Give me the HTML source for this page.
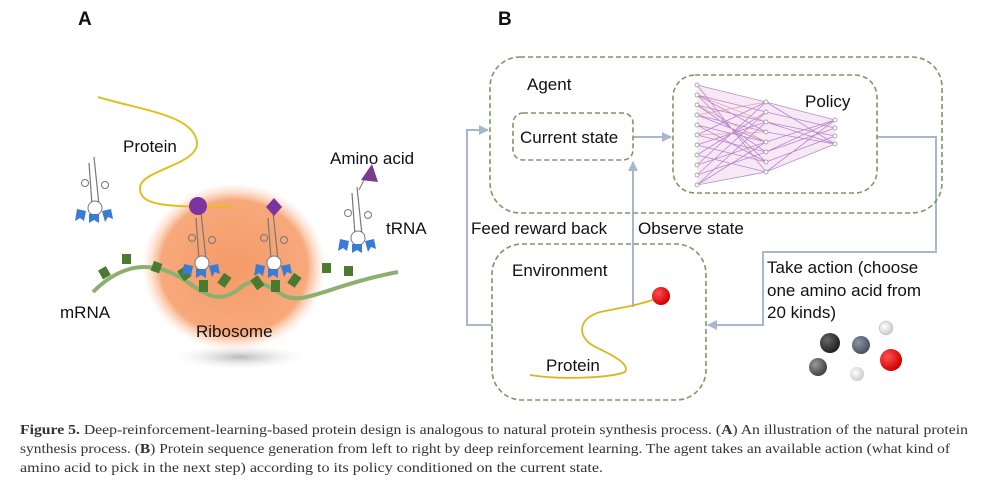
<!DOCTYPE html>
<html><head><meta charset="utf-8"><style>
html,body{margin:0;padding:0;background:#fff;}
svg{display:block;}
text{font-family:"Liberation Sans",sans-serif;}
.cap{font-family:"Liberation Serif",serif;font-size:13.5px;fill:#333;}
</style></head><body>
<svg width="1002" height="480" viewBox="0 0 1002 480" xmlns="http://www.w3.org/2000/svg">
<defs>
<radialGradient id="org" cx="50%" cy="50%" r="50%">
<stop offset="0" stop-color="#f59a68"/><stop offset="0.8" stop-color="#f7a97c"/><stop offset="1" stop-color="#fcd8c4" stop-opacity="0"/>
</radialGradient>
<radialGradient id="shd" cx="50%" cy="50%" r="50%">
<stop offset="0" stop-color="#b8b8b8"/><stop offset="1" stop-color="#eee" stop-opacity="0"/>
</radialGradient>
<radialGradient id="red" cx="35%" cy="35%" r="65%"><stop offset="0" stop-color="#ff5050"/><stop offset="1" stop-color="#d00000"/></radialGradient>
<radialGradient id="dk" cx="35%" cy="35%" r="65%"><stop offset="0" stop-color="#666"/><stop offset="1" stop-color="#222"/></radialGradient>
<radialGradient id="gb" cx="35%" cy="35%" r="65%"><stop offset="0" stop-color="#8a93a0"/><stop offset="1" stop-color="#4b5360"/></radialGradient>
<radialGradient id="gr" cx="35%" cy="35%" r="65%"><stop offset="0" stop-color="#999"/><stop offset="1" stop-color="#444"/></radialGradient>
<radialGradient id="lt" cx="40%" cy="40%" r="60%"><stop offset="0" stop-color="#fff"/><stop offset="1" stop-color="#ccc"/></radialGradient>
<marker id="ar" viewBox="0 0 10 10" refX="9" refY="5" markerWidth="5" markerHeight="5" orient="auto"><path d="M0,0L10,5L0,10z" fill="#a8b8cc"/></marker>
<g id="trna">
<path d="M0,-48 L5,0" stroke="#777" stroke-width="1.2" fill="none"/>
<path d="M-5,-42 L-2,0" stroke="#777" stroke-width="1.2" fill="none"/>
<circle cx="-9" cy="-22" r="3.5" fill="none" stroke="#777"/>
<circle cx="11" cy="-20" r="3.5" fill="none" stroke="#777"/>
<circle cx="1" cy="3" r="7" fill="#fff" stroke="#777"/>
<path d="M-17,4 l9,2 l-2,10 l-4,-3 l-5,3z" fill="#3a7bd5"/>
<path d="M-5,9 l10,0 l0,9 l-5,-3 l-5,3z" fill="#3a7bd5"/>
<path d="M8,6 l9,-2 l2,10 l-5,-2 l-3,5z" fill="#3a7bd5"/>
</g>
</defs>

<!-- Panel A -->
<text x="78" y="25" font-size="19" font-weight="bold" fill="#111">A</text>
<ellipse cx="240" cy="357" rx="65" ry="12" fill="url(#shd)"/>
<ellipse cx="234" cy="267" rx="92" ry="84" fill="url(#org)"/>
<path d="M98,97 C140,110 195,115 197,143 C198,165 140,170 140,188 C140,205 160,207 233,207" stroke="#e0c020" stroke-width="2" fill="none"/>
<path d="M93,292 C120,265 150,258 185,280 C205,295 220,305 240,288 C255,275 265,285 285,296 C305,305 330,285 398,272" stroke="#8cb070" stroke-width="4" fill="none"/>
<g fill="#4a7a30">
<rect x="100" y="268" width="9" height="10" transform="rotate(-30 104 273)"/>
<rect x="122" y="254" width="9" height="10"/>
<rect x="152" y="262" width="9" height="10" transform="rotate(20 156 267)"/>
<rect x="180" y="268" width="9" height="12" transform="rotate(-35 184 274)"/>
<rect x="199" y="280" width="9" height="12"/>
<rect x="220" y="274" width="9" height="12" transform="rotate(35 224 280)"/>
<rect x="253" y="277" width="9" height="12" transform="rotate(-35 257 283)"/>
<rect x="271" y="280" width="9" height="12"/>
<rect x="290" y="274" width="9" height="12" transform="rotate(35 294 280)"/>
<rect x="322" y="263" width="9" height="10"/>
<rect x="344" y="266" width="9" height="10"/>
</g>
<use href="#trna" transform="translate(94,205)"/>
<use href="#trna" transform="translate(357,235)"/>
<use href="#trna" transform="translate(201,260)"/>
<use href="#trna" transform="translate(273,260)"/>
<line x1="359" y1="190" x2="366" y2="176" stroke="#777"/>
<path d="M361,180 L372,164 L378,182z" fill="#7a3a90"/>
<circle cx="198" cy="206" r="9" fill="#7a35a0"/>
<path d="M274,198 L282,207 L274,216 L266,207z" fill="#7a35a0"/>
<g font-size="17" fill="#111">
<text x="123" y="152">Protein</text>
<text x="330" y="164">Amino acid</text>
<text x="386" y="234">tRNA</text>
<text x="60" y="318">mRNA</text>
<text x="196" y="337">Ribosome</text>
</g>

<!-- Panel B -->
<text x="498" y="25" font-size="19" font-weight="bold" fill="#111">B</text>
<g fill="none" stroke="#a8b8cc" stroke-width="2">
<path d="M492,325 L467,325 L467,130 L488,130" marker-end="url(#ar)"/>
<path d="M633,307 L633,162" marker-end="url(#ar)"/>
<path d="M633,137 L671,137" marker-end="url(#ar)"/>
<path d="M877,137 L936,137 L936,252 L763,252 L763,325 L708,325" marker-end="url(#ar)"/>
</g>
<g fill="none" stroke="#7a9a60" stroke-width="1.6" stroke-dasharray="5,3">
<rect x="490" y="57" width="452" height="156" rx="30"/>
<rect x="513" y="113" width="120" height="47" rx="10"/>
<rect x="673" y="75" width="204" height="118" rx="22"/>
<rect x="492" y="244" width="214" height="156" rx="30"/>
</g>
<!-- network -->
<path d="M697,85 L766,102 L835,120 L835,144 L766,172 L697,185z" fill="#f0d8ec" opacity="0.6"/>
<g stroke="#a060c0" stroke-width="0.8" opacity="0.7">
<path d="M697,85 L766,102 M697,95 L766,112 M697,105 L766,122 M697,115 L766,132 M697,125 L766,142 M697,135 L766,152 M697,145 L766,162 M697,155 L766,172 M697,165 L766,102 M697,175 L766,112 M697,185 L766,122 M697,85 L766,172 M697,95 L766,162 M697,105 L766,152 M697,115 L766,142 M697,155 L766,112 M697,175 L766,152 M697,185 L766,172 M697,135 L766,102 M697,125 L766,162 M697,145 L766,122 M697,165 L766,142 M697,95 L766,132 M697,185 L766,142"/>
<path d="M766,102 L835,120 M766,112 L835,128 M766,122 L835,136 M766,132 L835,144 M766,142 L835,120 M766,152 L835,128 M766,162 L835,136 M766,172 L835,144 M766,102 L835,144 M766,172 L835,120 M766,122 L835,144 M766,152 L835,120"/>
</g>
<g stroke="#e08080" stroke-width="0.8" opacity="0.6">
<path d="M697,95 L766,122 M697,115 L766,102 M697,135 L766,132 M697,105 L766,142"/>
</g>
<g fill="#fff" stroke="#888" stroke-width="0.7">
<circle cx="697" cy="85" r="2"/><circle cx="697" cy="95" r="2"/><circle cx="697" cy="105" r="2"/><circle cx="697" cy="115" r="2"/><circle cx="697" cy="125" r="2"/><circle cx="697" cy="135" r="2"/><circle cx="697" cy="145" r="2"/><circle cx="697" cy="155" r="2"/><circle cx="697" cy="165" r="2"/><circle cx="697" cy="175" r="2"/><circle cx="697" cy="185" r="2"/>
<circle cx="766" cy="102" r="2"/><circle cx="766" cy="112" r="2"/><circle cx="766" cy="122" r="2"/><circle cx="766" cy="132" r="2"/><circle cx="766" cy="142" r="2"/><circle cx="766" cy="152" r="2"/><circle cx="766" cy="162" r="2"/><circle cx="766" cy="172" r="2"/>
<circle cx="835" cy="120" r="2"/><circle cx="835" cy="128" r="2"/><circle cx="835" cy="136" r="2"/><circle cx="835" cy="144" r="2"/>
</g>
<path d="M530,375 C560,380 610,378 625,372 C632,362 600,350 592,345 C580,338 575,320 600,312 C620,308 640,305 658,298" stroke="#d8b820" stroke-width="1.8" fill="none"/>
<circle cx="661" cy="296" r="9" fill="url(#red)"/>
<g font-size="17" fill="#111">
<text x="527" y="90">Agent</text>
<text x="520" y="143">Current state</text>
<text x="805" y="107">Policy</text>
<text x="471" y="234">Feed reward back</text>
<text x="638" y="234">Observe state</text>
<text x="512" y="276">Environment</text>
<text x="546" y="371">Protein</text>
<text x="767" y="273">Take action (choose</text>
<text x="767" y="296">one amino acid from</text>
<text x="767" y="318">20 kinds)</text>
</g>
<circle cx="886" cy="328" r="7" fill="url(#lt)" stroke="#bbb" stroke-width="0.5"/>
<circle cx="830" cy="343" r="10" fill="url(#dk)"/>
<circle cx="861" cy="345" r="9" fill="url(#gb)"/>
<circle cx="891" cy="360" r="11" fill="url(#red)"/>
<circle cx="818" cy="367" r="9" fill="url(#gr)"/>
<circle cx="857" cy="374" r="7" fill="url(#lt)"/>

<!-- caption -->
<text class="cap" x="20" y="434" textLength="948" lengthAdjust="spacingAndGlyphs"><tspan font-weight="bold">Figure 5.</tspan> Deep-reinforcement-learning-based protein design is analogous to natural protein synthesis process. (<tspan font-weight="bold">A</tspan>) An illustration of the natural protein</text>
<text class="cap" x="20" y="453" textLength="930" lengthAdjust="spacingAndGlyphs">synthesis process. (<tspan font-weight="bold">B</tspan>) Protein sequence generation from left to right by deep reinforcement learning. The agent takes an available action (what kind of</text>
<text class="cap" x="20" y="472" textLength="583" lengthAdjust="spacingAndGlyphs">amino acid to pick in the next step) according to its policy conditioned on the current state.</text>
</svg>
</body></html>
